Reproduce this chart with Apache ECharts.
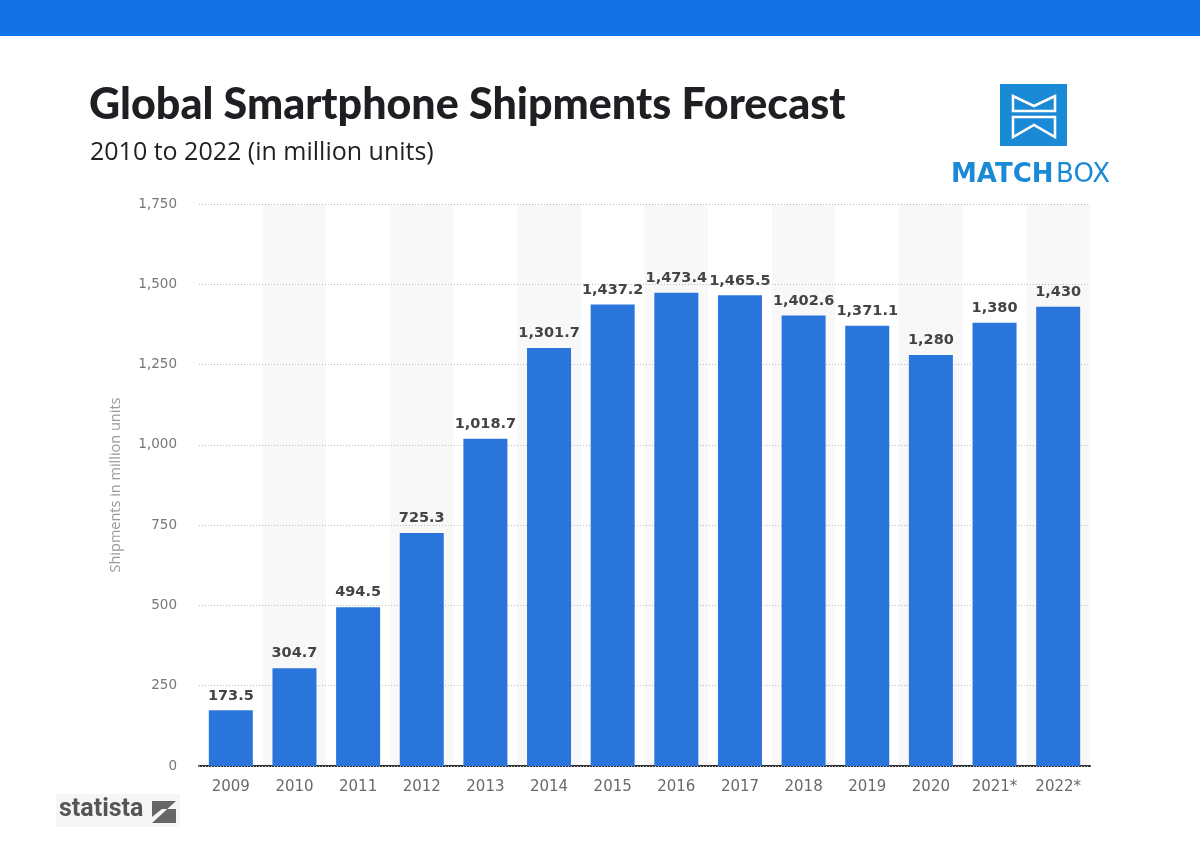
<!DOCTYPE html>
<html>
<head>
<meta charset="utf-8">
<script src="https://cdn.jsdelivr.net/npm/echarts@6/dist/echarts.min.js"></script>
<style>html,body{margin:0;padding:0;background:#fff}#c{width:1200px;height:857px}</style>
</head>
<body>
<div id="c"></div>
<script>
const categories = ['2009','2010','2011','2012','2013','2014','2015','2016','2017','2018','2019','2020','2021*','2022*'];
const shipments = [173.5, 304.7, 494.5, 725.3, 1018.7, 1301.7, 1437.2, 1473.4, 1465.5, 1402.6, 1371.1, 1280, 1380, 1430];
const titleText = 'Global Smartphone Shipments Forecast';
const subtitleText = '2010 to 2022 (in million units)';
const yAxisName = 'Shipments in million units';

const fmt = v => v.toLocaleString('en-US', {maximumFractionDigits: 1});
const chart = echarts.init(document.getElementById('c'));
chart.setOption({
  backgroundColor: '#fff',
  animation: false,
  title: [{
    text: titleText, left: 84, top: 79,
    textStyle: {fontFamily: 'Lato', fontWeight: 900, fontSize: 43, color: '#1d1f22'}
  }, {
    text: subtitleText, left: 85, top: 135,
    textStyle: {fontFamily: 'Open Sans', fontWeight: 'normal', fontSize: 25, color: '#222'}
  }],
  grid: {left: 199, right: 110, top: 204, bottom: 91, containLabel: false},
  xAxis: {
    type: 'category', data: categories, z: 1,
    axisLine: {lineStyle: {color: '#333', width: 2}},
    axisTick: {show: false},
    axisLabel: {color: '#6a6a6a', fontFamily: 'DejaVu Sans', fontSize: 15, margin: 14},
    splitArea: {show: true, areaStyle: {color: ['rgba(255,255,255,1)', 'rgba(248,248,248,1)']}}
  },
  yAxis: {
    type: 'value', min: 0, max: 1750, interval: 250, z: 3,
    name: yAxisName, nameLocation: 'middle', nameGap: 76,
    nameTextStyle: {color: '#999', fontFamily: 'Open Sans', fontSize: 14.5},
    axisLine: {show: false}, axisTick: {show: false},
    axisLabel: {color: '#777', fontFamily: 'DejaVu Sans', fontSize: 13.5, margin: 22,
      formatter: v => v.toLocaleString('en-US')},
    splitLine: {lineStyle: {color: '#bbb', type: [1, 2], width: 1}}
  },
  series: [{
    type: 'bar', data: shipments, barWidth: 44, z: 4,
    itemStyle: {color: '#2a75db'},
    label: {show: true, position: 'top', distance: 7, color: '#444',
      fontFamily: 'DejaVu Sans', fontWeight: 'bold', fontSize: 14.5,
      formatter: p => fmt(p.value)}
  }],
  graphic: [
    {type: 'rect', left: 0, top: 0, shape: {width: 1200, height: 36}, style: {fill: '#1273e8'}},
    {type: 'group', left: 1000, top: 84, children: [
      {type: 'rect', shape: {x: 0, y: 0, width: 67, height: 62}, style: {fill: '#1b8ad6'}},
      {type: 'polygon', shape: {points: [[13,27],[13,12],[34,22],[55,12],[55,27]]}, style: {stroke: '#fff', lineWidth: 2.5, fill: null}},
      {type: 'polygon', shape: {points: [[13,33],[55,33],[55,53],[34,41],[13,53]]}, style: {stroke: '#fff', lineWidth: 2.5, fill: null}}
    ]},
    {type: 'text', left: 951, top: 162, style: {text: 'MATCH', fill: '#1b8ad6', font: 'bold 26px "DejaVu Sans"'}},
    {type: 'text', left: 1056, top: 162, style: {text: 'BOX', fill: '#1b8ad6', font: 'normal 26px "DejaVu Sans"'}},
    {type: 'rect', left: 56, top: 794, shape: {width: 124, height: 33}, style: {fill: '#f6f6f6'}},
    {type: 'text', left: 59, top: 797, style: {text: 'statista', fill: '#555', font: 'bold 25px Roboto'}},
    {type: 'group', left: 152, top: 801, children: [
      {type: 'rect', shape: {x: 0, y: 0, width: 24, height: 22}, style: {fill: '#666'}},
      {type: 'polygon', shape: {points: [[0,22],[0,16],[10,8],[24,8],[24,0]]}, style: {fill: '#f6f6f6'}}
    ]}
  ]
});
</script>
</body>
</html>
